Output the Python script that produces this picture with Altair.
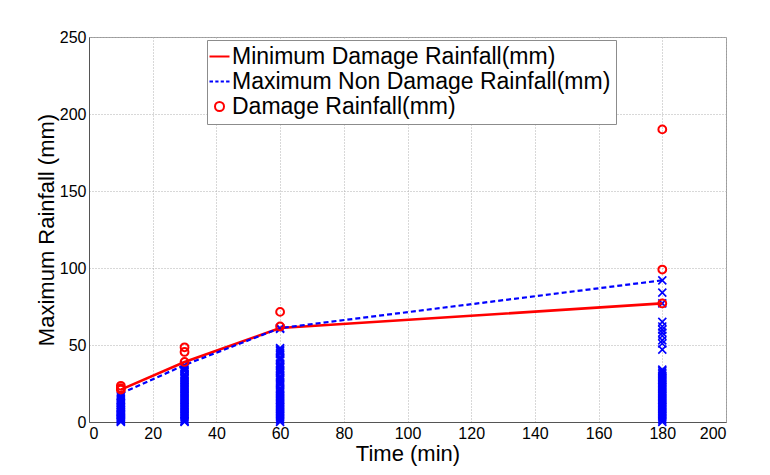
import altair as alt
import pandas as pd

# ---- data ----
series_names = ["Minimum Damage Rainfall(mm)",
                "Maximum Non Damage Rainfall(mm)",
                "Damage Rainfall(mm)"]

durations = [10, 30, 60, 180]
min_damage = [21.0, 39.0, 61.0, 77.0]
max_non_damage = [18.5, 37.0, 61.0, 92.0]

damage_time = [10, 10, 10, 30, 30, 30, 60, 60, 180, 180, 180]
damage_rain = [23.5, 22.0, 21.0, 48.5, 45.5, 39.0, 71.5, 62.0, 190.0, 99.0, 77.0]

nd_10 = [18.5, 17, 16, 15, 14, 13, 12.5, 12, 11, 10, 9.5, 9, 8, 7, 6.5, 6, 5, 4.5,
         4, 3.5, 3, 2.5, 2, 1.5, 1, 0.5, 0]
nd_30 = [37, 36, 35, 34, 33, 31, 30, 29, 28, 27, 26, 25, 24, 23, 22, 21, 20, 19, 18,
         17, 16, 15, 14, 13, 12, 11, 10, 9, 8, 7, 6, 5, 4, 3, 2, 1, 0.5, 0]
nd_60 = [61, 60.5, 48, 47, 46, 45, 44, 42, 41, 40, 38, 37, 36, 35, 34, 33, 32, 30, 29,
         28, 27, 26, 25, 24, 22, 21, 20, 19, 18, 17, 16, 15, 14, 13, 12, 11, 10, 9, 8,
         7, 6, 5, 4, 3, 2, 1, 0]
nd_180 = [92, 84, 77, 65, 62, 60, 58, 56, 53, 51, 47, 34, 33, 32, 31, 30, 29, 28, 27,
          26, 25, 24, 23, 22, 21, 20, 19, 18, 17, 16, 15, 14, 13, 12, 11, 10, 9, 8, 7,
          6, 5, 4, 3, 2, 1, 0]

x_ticks = list(range(0, 201, 20))
y_ticks = list(range(0, 251, 50))

# ---- tables ----
lines_df = pd.DataFrame({
    "time": durations * 2,
    "rain": min_damage + max_non_damage,
    "series": [series_names[0]] * 4 + [series_names[1]] * 4,
})
damage_df = pd.DataFrame({"time": damage_time, "rain": damage_rain,
                          "series": series_names[2]})
nd_df = pd.DataFrame({
    "time": [10] * len(nd_10) + [30] * len(nd_30) + [60] * len(nd_60) + [180] * len(nd_180),
    "rain": nd_10 + nd_30 + nd_60 + nd_180,
})

FONT = "Liberation Sans"
RED = "#ff0000"
BLUE = "#0000ff"

x_enc = alt.X("time:Q", scale=alt.Scale(domain=[0, 200], nice=False),
              axis=alt.Axis(values=x_ticks, title="Time (min)"))
y_enc = alt.Y("rain:Q", scale=alt.Scale(domain=[0, 250], nice=False),
              axis=alt.Axis(values=y_ticks, title="Maximum Rainfall (mm)"))

color_scale = alt.Scale(domain=series_names, range=[RED, BLUE, RED])
shape_scale = alt.Scale(
    domain=series_names,
    range=["M-1,0H1",
           "M-1,0H-0.65M-0.42,0H-0.1M0.12,0H0.44M0.66,0H1",
           "M-0.45,0A0.45,0.45 0 1,0 0.45,0A0.45,0.45 0 1,0 -0.45,0"],
)
legend = alt.Legend(
    title=None, orient="none", legendX=118, legendY=3,
    labelFont=FONT, labelFontSize=23, labelColor="black", labelLimit=500,
    labelOffset=1, symbolSize=400, symbolStrokeWidth=2, symbolFillColor="transparent",
    rowPadding=1, padding=5, strokeColor="#8c8c8c", fillColor="white",
    symbolOffset=-4,
)

nd_layer = alt.Chart(nd_df).mark_point(
    shape="M-1,-1L1,1M-1,1L1,-1", size=64, filled=False, color=BLUE,
    strokeWidth=1.6, opacity=1,
).encode(x=x_enc, y=y_enc)

min_line = alt.Chart(lines_df).transform_filter(
    alt.datum.series == series_names[0]
).mark_line(strokeWidth=2.6).encode(
    x=x_enc, y=y_enc,
    color=alt.Color("series:N", scale=color_scale, legend=legend),
)

max_line = alt.Chart(lines_df).transform_filter(
    alt.datum.series == series_names[1]
).mark_line(strokeWidth=2.2, strokeDash=[5, 3]).encode(
    x=x_enc, y=y_enc,
    color=alt.Color("series:N", scale=color_scale, legend=legend),
)

damage_layer = alt.Chart(damage_df).mark_point(
    filled=False, size=300, strokeWidth=2, opacity=1,
).encode(
    x=x_enc, y=y_enc,
    color=alt.Color("series:N", scale=color_scale, legend=legend),
    shape=alt.Shape("series:N", scale=shape_scale, legend=legend),
)

chart = alt.layer(nd_layer, min_line, max_line, damage_layer).properties(
    width=637, height=385,
    padding={"left": 27, "top": 21, "right": 5, "bottom": 5},
    background="white",
).configure_view(
    stroke="#9a9a9a", strokeWidth=1,
).configure_axis(
    labelFont=FONT, labelFontSize=16, labelColor="black",
    titleFont=FONT, titleFontSize=22, titleColor="black", titleFontWeight="normal",
    domainColor="#555555", ticks=False,
    grid=True, gridColor="#b0b0b0", gridDash=[1, 2], gridWidth=1,
).configure_axisX(
    labelPadding=3, titlePadding=2,
).configure_axisY(
    labelPadding=3, titlePadding=1,
)

chart.save("out.html", embed_options={"renderer": "svg", "actions": False})
